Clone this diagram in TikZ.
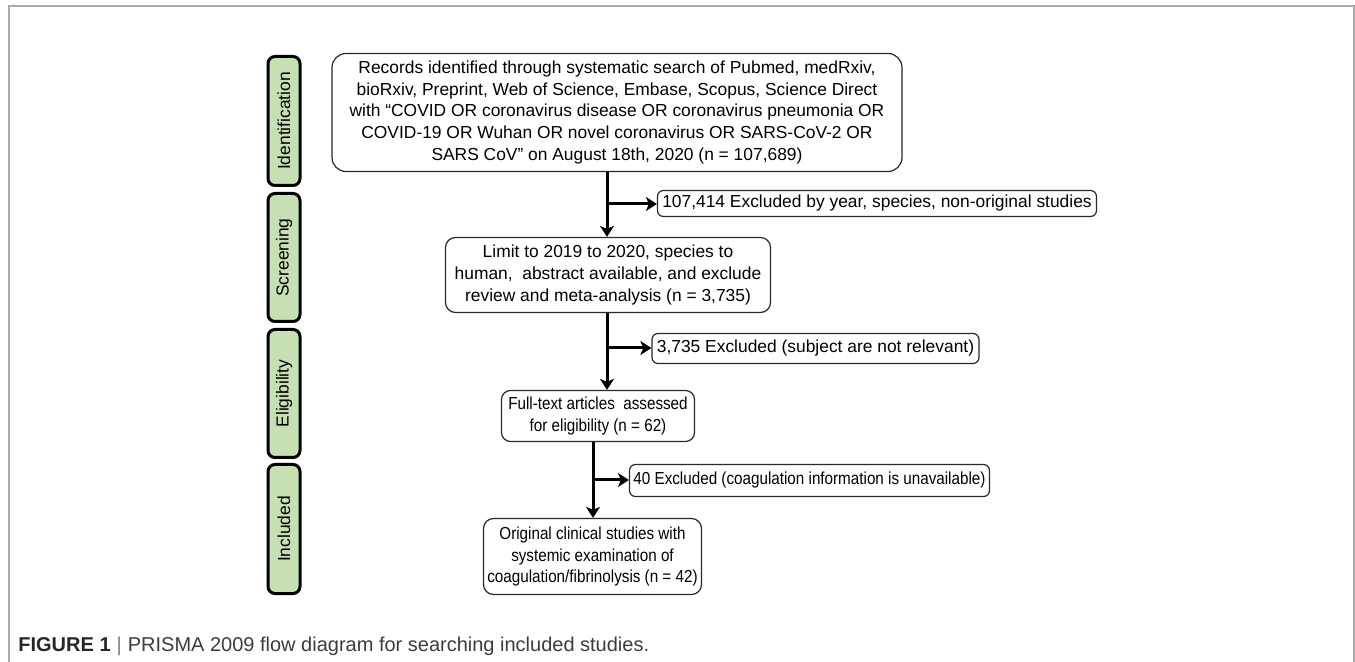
\documentclass[tikz,border=0pt]{standalone}
\usepackage{fontspec}
\setmainfont{Liberation Sans}
\newfontfamily\narrowfont{Liberation Sans}[FakeStretch=0.875]
\usetikzlibrary{arrows.meta}
\definecolor{phasegreen}{RGB}{198,224,180}
\definecolor{framegray}{RGB}{170,170,170}
\definecolor{boxline}{RGB}{40,40,40}
\definecolor{captext}{RGB}{60,60,60}
\begin{document}
\begin{tikzpicture}[x=0.5pt,y=-0.5pt,
  phase/.style={draw=black, line width=1.5pt, fill=phasegreen, rounded corners=3.5pt, rotate=90, minimum height=16pt, inner sep=0pt, font=\fontsize{8.7}{10}\selectfont},
  box/.style={draw=boxline, line width=0.6pt, align=center, inner sep=0pt, font=\fontsize{8.7}{10.8}\selectfont},
  narrowbox/.style={box, font=\narrowfont\fontsize{8.7}{10.8}\selectfont},
  flow/.style={line width=1.5pt, -{Stealth[length=5.5pt,width=7pt,inset=1.5pt]}}
]
\useasboundingbox (0,0) rectangle (1355,662);
\draw[framegray, line width=0.6pt] (9,662) -- (9,6) -- (1354,6) -- (1354,662);

\node[phase, minimum width=64.5pt] (pid) at (284,121) {Identification};
\node[phase, minimum width=64pt] (psc) at (284,257.5) {Screening};
\node[phase, minimum width=64pt] (pel) at (284,393.5) {Eligibility};
\node[phase, minimum width=64.5pt] (pin) at (284,529) {Included};

\node[box, rounded corners=7pt, minimum width=285pt, minimum height=59pt] (box1) at (617,112.5)
  {Records identified through systematic search of Pubmed, medRxiv,\\
   bioRxiv, Preprint, Web of Science, Embase, Scopus, Science Direct\\
   with “COVID OR coronavirus disease OR coronavirus pneumonia OR\\
   COVID-19 OR Wuhan OR novel coronavirus OR SARS-CoV-2 OR\\
   SARS CoV” on August 18th, 2020 (n = 107,689)};
\node[box, rounded corners=3pt, minimum width=219.5pt, minimum height=13pt] (ex1) at (877,203.5)
  {107,414 Excluded by year, species, non-original studies};
\node[box, rounded corners=5pt, minimum width=162.5pt, minimum height=37.5pt] (box2) at (608,275)
  {Limit to 2019 to 2020, species to\\
   human,~ abstract available, and exclude\\
   review and meta-analysis (n = 3,735)};
\node[box, rounded corners=3pt, minimum width=163.5pt, minimum height=15pt] (ex2) at (815.5,348.5)
  {3,735 Excluded (subject are not relevant)};
\node[narrowbox, rounded corners=4.5pt, minimum width=96.5pt, minimum height=25.5pt] (box3) at (598,416)
  {Full-text articles~ assessed\\ for eligibility (n = 62)};
\node[narrowbox, rounded corners=3pt, minimum width=180pt, minimum height=16pt] (ex3) at (809.5,480.5)
  {40 Excluded (coagulation information is unavailable)};
\node[narrowbox, rounded corners=5pt, minimum width=109pt, minimum height=38pt] (box4) at (592.5,556.5)
  {Original clinical studies with\\ systemic examination of\\ coagulation/fibrinolysis (n = 42)};

\coordinate (j1) at (607,204);
\coordinate (j2) at (607,348);
\coordinate (j3) at (593,480);
\draw[flow] (box1.south -| j1) -- (box2.north -| j1);
\draw[flow] (j1) -- (ex1.west |- j1);
\draw[flow] (box2.south -| j2) -- (box3.north -| j2);
\draw[flow] (j2) -- (ex2.west |- j2);
\draw[flow] (box3.south -| j3) -- (box4.north -| j3);
\draw[flow] (j3) -- (ex3.west |- j3);

\node[anchor=base west, inner sep=0pt, text=captext, font=\fontsize{10}{12}\selectfont] (cap) at (18,651)
  {\textbf{\color{black!85}FIGURE 1}\hspace{3pt}{\color{gray}|}\hspace{3pt}PRISMA 2009 flow diagram for searching included studies.};
\end{tikzpicture}
\end{document}
